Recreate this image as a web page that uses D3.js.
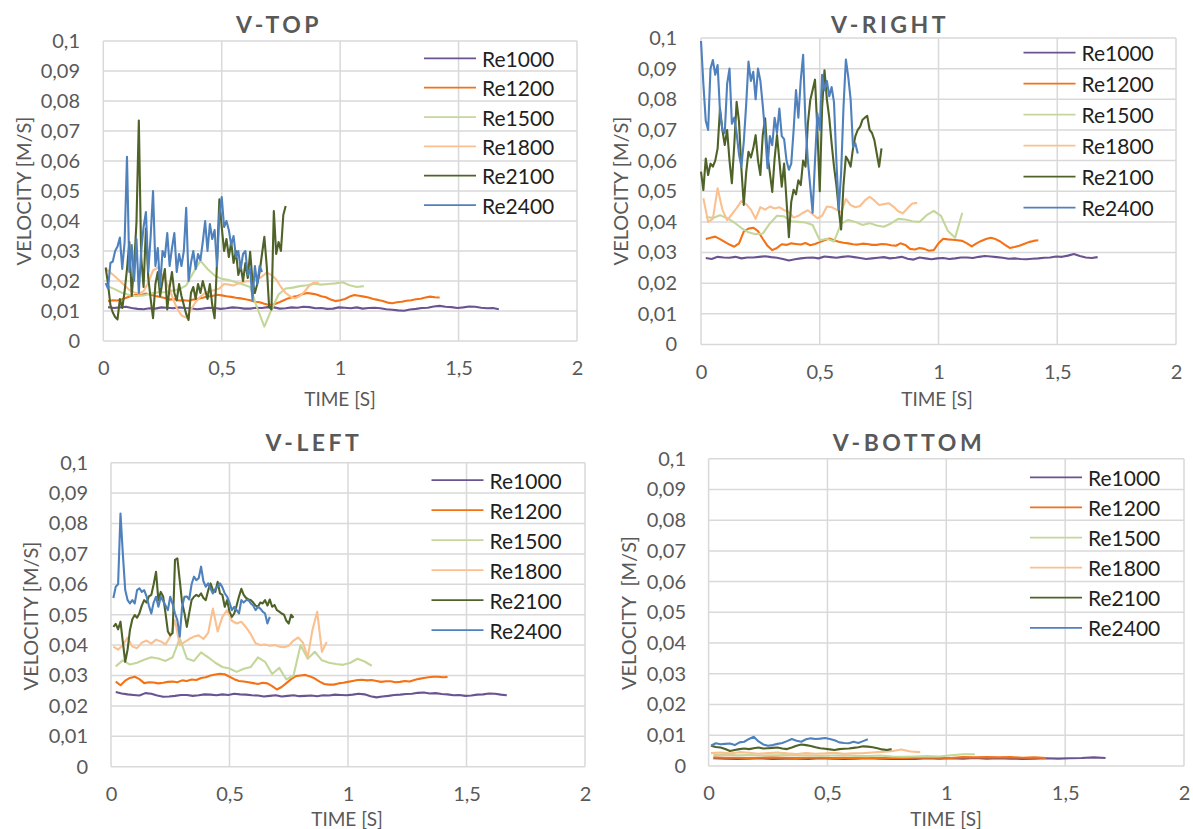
<!DOCTYPE html>
<html>
<head>
<meta charset="utf-8">
<script src="https://cdn.jsdelivr.net/npm/d3@7"></script>
<style>
  body { margin: 0; background: #fff; }
  svg { display: block; font-family: Lato, "Open Sans", sans-serif; }
</style>
</head>
<body>
<div id="app"></div>
<script>
// series names and colours
const seriesNames = ['Re1000', 'Re1200', 'Re1500', 'Re1800', 'Re2100', 'Re2400']
const seriesColors = ['#6b5391', '#f47216', '#c4d79b', '#fac090', '#4f6228', '#4f81bd']

// axis ticks
const xTicks = [0, 0.5, 1, 1.5, 2]
const yTicks = [0, 0.01, 0.02, 0.03, 0.04, 0.05, 0.06, 0.07, 0.08, 0.09, 0.1]

// sampling of each series (start time, time step), same order as seriesNames
const seriesStart = [0.02, 0.02, 0.02, 0.01, 0.01, 0.01]
const rightStart = [0.02, 0.02, 0.02, 0.01, 0.0, 0.0]
const seriesStep = [0.025, 0.02, 0.03, 0.02, 0.01, 0.01]
const bottomStep = [0.05, 0.05, 0.05, 0.04, 0.02, 0.02]

// ---------- V-TOP ----------
const topRe1000 = [0.0113,0.0110,0.0112,0.0114,0.0110,0.0107,0.0106,0.0109,0.0108,0.0112,0.0111,0.0109,0.0112,0.0110,0.0109,0.0106,0.0108,0.0111,0.0110,0.0107,0.0109,0.0112,0.0111,0.0108,0.0108,0.0111,0.0110,0.0113,0.0112,0.0108,0.0109,0.0112,0.0111,0.0114,0.0113,0.0109,0.0110,0.0107,0.0108,0.0112,0.0111,0.0109,0.0112,0.0108,0.0110,0.0111,0.0109,0.0106,0.0104,0.0102,0.0101,0.0105,0.0107,0.0110,0.0111,0.0115,0.0117,0.0114,0.0113,0.0110,0.0112,0.0115,0.0114,0.0111,0.0109,0.0110,0.0106]
const topRe1200 = [0.0133,0.0136,0.0135,0.0139,0.0145,0.0151,0.0155,0.0153,0.0158,0.0154,0.0150,0.0147,0.0143,0.0138,0.0140,0.0135,0.0136,0.0134,0.0138,0.0141,0.0144,0.0148,0.0150,0.0154,0.0152,0.0149,0.0147,0.0144,0.0142,0.0139,0.0136,0.0131,0.0129,0.0124,0.0120,0.0122,0.0128,0.0135,0.0142,0.0147,0.0150,0.0156,0.0160,0.0158,0.0155,0.0149,0.0146,0.0138,0.0133,0.0136,0.0140,0.0148,0.0153,0.0151,0.0148,0.0145,0.0140,0.0137,0.0133,0.0128,0.0126,0.0129,0.0131,0.0134,0.0136,0.0139,0.0141,0.0145,0.0148,0.0146,0.0145]
const topRe1500 = [0.0182,0.0172,0.0160,0.0153,0.0150,0.0152,0.0158,0.0162,0.0163,0.0168,0.0172,0.0185,0.0228,0.0268,0.0240,0.0218,0.0207,0.0203,0.0196,0.0188,0.0180,0.0110,0.0048,0.0105,0.0155,0.0175,0.0178,0.0183,0.0186,0.0191,0.0188,0.0190,0.0192,0.0196,0.0186,0.0180,0.0183]
const topRe1800 = [0.0242,0.0228,0.0215,0.0200,0.0185,0.0170,0.0162,0.0158,0.0166,0.0195,0.0235,0.0245,0.0218,0.0190,0.0150,0.0110,0.0085,0.0078,0.0105,0.0130,0.0148,0.0160,0.0166,0.0170,0.0175,0.0190,0.0188,0.0185,0.0192,0.0196,0.0200,0.0198,0.0205,0.0215,0.0228,0.0220,0.0205,0.0180,0.0160,0.0148,0.0142,0.0150,0.0165,0.0185,0.0195,0.0193]
const topRe2100 = [0.0245,0.0190,0.0120,0.0095,0.0080,0.0072,0.0140,0.0110,0.0165,0.0240,0.0330,0.0150,0.0250,0.0395,0.0735,0.0280,0.0180,0.0375,0.0210,0.0140,0.0076,0.0190,0.0230,0.0150,0.0200,0.0240,0.0105,0.0180,0.0230,0.0160,0.0135,0.0190,0.0150,0.0120,0.0090,0.0070,0.0160,0.0180,0.0140,0.0190,0.0160,0.0200,0.0170,0.0140,0.0190,0.0120,0.0076,0.0260,0.0472,0.0380,0.0300,0.0340,0.0280,0.0330,0.0260,0.0300,0.0220,0.0250,0.0200,0.0260,0.0210,0.0297,0.0200,0.0160,0.0190,0.0230,0.0290,0.0347,0.0250,0.0115,0.0105,0.0433,0.0290,0.0330,0.0300,0.0420,0.0450]
const topRe2400 = [0.0193,0.0175,0.0260,0.0265,0.0300,0.0315,0.0345,0.0240,0.0330,0.0614,0.0230,0.0320,0.0200,0.0340,0.0160,0.0300,0.0380,0.0430,0.0230,0.0350,0.0500,0.0250,0.0310,0.0180,0.0300,0.0280,0.0360,0.0250,0.0310,0.0360,0.0230,0.0290,0.0250,0.0300,0.0444,0.0200,0.0260,0.0300,0.0240,0.0290,0.0270,0.0330,0.0400,0.0300,0.0390,0.0340,0.0370,0.0250,0.0420,0.0480,0.0380,0.0400,0.0370,0.0320,0.0350,0.0280,0.0300,0.0240,0.0290,0.0300,0.0220,0.0240,0.0137,0.0250,0.0190,0.0250,0.0230]

// ---------- V-RIGHT ----------
const rightRe1000 = [0.0282,0.0279,0.0286,0.0284,0.0283,0.0286,0.0281,0.0284,0.0284,0.0286,0.0288,0.0285,0.0283,0.0279,0.0274,0.0278,0.0281,0.0283,0.0284,0.0281,0.0287,0.0285,0.0283,0.0286,0.0288,0.0285,0.0282,0.0279,0.0281,0.0283,0.0285,0.0281,0.0283,0.0286,0.0280,0.0277,0.0284,0.0281,0.0278,0.0281,0.0282,0.0279,0.0281,0.0284,0.0284,0.0282,0.0286,0.0289,0.0287,0.0285,0.0283,0.0280,0.0281,0.0279,0.0278,0.0280,0.0281,0.0283,0.0284,0.0287,0.0286,0.0290,0.0295,0.0289,0.0284,0.0282,0.0285]
const rightRe1200 = [0.0344,0.0348,0.0352,0.0344,0.0335,0.0326,0.0319,0.0330,0.0368,0.0378,0.0381,0.0370,0.0345,0.0322,0.0308,0.0315,0.0327,0.0325,0.0330,0.0328,0.0326,0.0331,0.0324,0.0328,0.0334,0.0340,0.0346,0.0340,0.0335,0.0332,0.0330,0.0327,0.0326,0.0329,0.0328,0.0325,0.0325,0.0328,0.0327,0.0324,0.0322,0.0330,0.0325,0.0312,0.0310,0.0315,0.0312,0.0306,0.0308,0.0330,0.0345,0.0343,0.0342,0.0340,0.0338,0.0330,0.0320,0.0330,0.0338,0.0344,0.0348,0.0344,0.0336,0.0325,0.0315,0.0318,0.0322,0.0328,0.0334,0.0338,0.0340]
const rightRe1500 = [0.0416,0.0413,0.0422,0.0412,0.0398,0.0380,0.0366,0.0360,0.0362,0.0395,0.0420,0.0418,0.0402,0.0400,0.0398,0.0390,0.0340,0.0345,0.0336,0.0395,0.0406,0.0400,0.0390,0.0396,0.0388,0.0384,0.0395,0.0410,0.0408,0.0402,0.0400,0.0422,0.0436,0.0420,0.0370,0.0348,0.0430]
const rightRe1800 = [0.0477,0.0400,0.0410,0.0510,0.0440,0.0406,0.0425,0.0445,0.0468,0.0458,0.0440,0.0410,0.0448,0.0440,0.0450,0.0444,0.0448,0.0438,0.0432,0.0414,0.0420,0.0430,0.0438,0.0425,0.0412,0.0420,0.0450,0.0448,0.0440,0.0432,0.0475,0.0455,0.0448,0.0452,0.0470,0.0482,0.0470,0.0455,0.0458,0.0461,0.0450,0.0435,0.0428,0.0445,0.0460,0.0462]
const rightRe2100 = [0.0564,0.0504,0.0607,0.0553,0.0590,0.0580,0.0600,0.0640,0.0770,0.0700,0.0651,0.0700,0.0600,0.0526,0.0650,0.0792,0.0727,0.0575,0.0455,0.0560,0.0629,0.0610,0.0640,0.0683,0.0600,0.0553,0.0683,0.0738,0.0618,0.0560,0.0498,0.0607,0.0683,0.0600,0.0515,0.0590,0.0470,0.0350,0.0466,0.0505,0.0490,0.0536,0.0520,0.0600,0.0580,0.0721,0.0797,0.0830,0.0864,0.0700,0.0500,0.0775,0.0895,0.0800,0.0740,0.0656,0.0580,0.0520,0.0440,0.0375,0.0520,0.0613,0.0600,0.0580,0.0640,0.0680,0.0700,0.0711,0.0733,0.0740,0.0746,0.0700,0.0690,0.0667,0.0623,0.0580,0.0640]
const rightRe2400 = [0.0990,0.0850,0.0730,0.0700,0.0900,0.0928,0.0880,0.0912,0.0760,0.0700,0.0690,0.0850,0.0900,0.0720,0.0740,0.0690,0.0620,0.0580,0.0660,0.0780,0.0923,0.0860,0.0890,0.0800,0.0900,0.0860,0.0780,0.0690,0.0575,0.0680,0.0650,0.0740,0.0690,0.0770,0.0680,0.0670,0.0600,0.0570,0.0590,0.0700,0.0830,0.0740,0.0863,0.0945,0.0720,0.0600,0.0515,0.0430,0.0600,0.0754,0.0700,0.0880,0.0830,0.0860,0.0810,0.0840,0.0790,0.0600,0.0440,0.0560,0.0775,0.0930,0.0873,0.0800,0.0645,0.0656,0.0623]

// ---------- V-LEFT ----------
const leftRe1000 = [0.0246,0.0241,0.0238,0.0236,0.0234,0.0242,0.0240,0.0234,0.0230,0.0231,0.0233,0.0236,0.0236,0.0233,0.0235,0.0238,0.0237,0.0235,0.0238,0.0236,0.0240,0.0238,0.0237,0.0235,0.0234,0.0231,0.0233,0.0235,0.0231,0.0233,0.0235,0.0232,0.0233,0.0234,0.0232,0.0235,0.0234,0.0237,0.0236,0.0235,0.0237,0.0240,0.0238,0.0232,0.0228,0.0231,0.0233,0.0236,0.0237,0.0239,0.0240,0.0243,0.0244,0.0241,0.0242,0.0239,0.0238,0.0235,0.0236,0.0233,0.0234,0.0237,0.0238,0.0241,0.0240,0.0237,0.0235]
const leftRe1200 = [0.0280,0.0268,0.0283,0.0292,0.0296,0.0288,0.0275,0.0278,0.0277,0.0274,0.0276,0.0279,0.0280,0.0278,0.0284,0.0282,0.0287,0.0285,0.0292,0.0294,0.0300,0.0303,0.0306,0.0304,0.0296,0.0288,0.0282,0.0280,0.0278,0.0275,0.0272,0.0276,0.0274,0.0265,0.0254,0.0262,0.0275,0.0288,0.0298,0.0300,0.0302,0.0297,0.0290,0.0280,0.0272,0.0270,0.0270,0.0274,0.0276,0.0279,0.0282,0.0285,0.0286,0.0284,0.0285,0.0282,0.0279,0.0281,0.0281,0.0278,0.0279,0.0282,0.0280,0.0285,0.0289,0.0292,0.0294,0.0296,0.0296,0.0294,0.0295]
const leftRe1500 = [0.0330,0.0350,0.0336,0.0342,0.0352,0.0360,0.0356,0.0348,0.0360,0.0422,0.0356,0.0348,0.0376,0.0360,0.0342,0.0328,0.0323,0.0312,0.0322,0.0328,0.0360,0.0345,0.0305,0.0325,0.0287,0.0300,0.0400,0.0355,0.0378,0.0350,0.0342,0.0338,0.0335,0.0342,0.0355,0.0346,0.0332]
const leftRe1800 = [0.0395,0.0385,0.0400,0.0425,0.0395,0.0390,0.0408,0.0415,0.0405,0.0418,0.0412,0.0402,0.0428,0.0482,0.0400,0.0410,0.0420,0.0428,0.0432,0.0420,0.0440,0.0520,0.0445,0.0493,0.0515,0.0480,0.0471,0.0477,0.0458,0.0436,0.0406,0.0400,0.0402,0.0398,0.0400,0.0395,0.0393,0.0398,0.0415,0.0425,0.0408,0.0360,0.0450,0.0510,0.0378,0.0410]
const leftRe2100 = [0.0460,0.0470,0.0452,0.0477,0.0410,0.0345,0.0385,0.0450,0.0485,0.0499,0.0490,0.0505,0.0530,0.0548,0.0540,0.0560,0.0565,0.0600,0.0641,0.0548,0.0575,0.0560,0.0505,0.0445,0.0432,0.0440,0.0680,0.0685,0.0614,0.0540,0.0505,0.0460,0.0505,0.0548,0.0559,0.0565,0.0560,0.0570,0.0555,0.0548,0.0580,0.0603,0.0581,0.0575,0.0608,0.0570,0.0565,0.0526,0.0548,0.0510,0.0493,0.0504,0.0530,0.0560,0.0585,0.0565,0.0555,0.0550,0.0548,0.0540,0.0530,0.0526,0.0540,0.0537,0.0548,0.0530,0.0550,0.0526,0.0532,0.0515,0.0510,0.0504,0.0500,0.0480,0.0471,0.0500,0.0490]
const leftRe2400 = [0.0555,0.0592,0.0600,0.0833,0.0700,0.0581,0.0548,0.0537,0.0548,0.0537,0.0581,0.0587,0.0575,0.0581,0.0560,0.0530,0.0504,0.0540,0.0559,0.0526,0.0559,0.0545,0.0530,0.0515,0.0559,0.0535,0.0504,0.0482,0.0428,0.0526,0.0559,0.0560,0.0550,0.0600,0.0625,0.0614,0.0620,0.0658,0.0610,0.0592,0.0603,0.0585,0.0570,0.0585,0.0592,0.0603,0.0590,0.0570,0.0559,0.0540,0.0515,0.0526,0.0515,0.0504,0.0548,0.0540,0.0548,0.0548,0.0537,0.0530,0.0515,0.0526,0.0520,0.0510,0.0504,0.0471,0.0493]

// ---------- V-BOTTOM ----------
const bottomRe1000 = [0.0025,0.0024,0.0023,0.0024,0.0025,0.0023,0.0024,0.0024,0.0023,0.0025,0.0024,0.0023,0.0024,0.0025,0.0024,0.0023,0.0024,0.0023,0.0025,0.0024,0.0025,0.0024,0.0026,0.0024,0.0025,0.0024,0.0023,0.0024,0.0025,0.0024,0.0025,0.0026,0.0028,0.0026]
const bottomRe1200 = [0.0028,0.0027,0.0027,0.0026,0.0027,0.0028,0.0027,0.0026,0.0027,0.0027,0.0026,0.0027,0.0026,0.0027,0.0026,0.0027,0.0026,0.0027,0.0028,0.0027,0.0026,0.0029,0.0028,0.0029,0.0028,0.0029,0.0027,0.0028,0.0026]
const bottomRe1500 = [0.0036,0.0037,0.0035,0.0036,0.0034,0.0035,0.0036,0.0034,0.0035,0.0033,0.0034,0.0035,0.0033,0.0032,0.0034,0.0031,0.0030,0.0031,0.0032,0.0031,0.0035,0.0038,0.0038]
const bottomRe1800 = [0.0042,0.0044,0.0041,0.0045,0.0043,0.0040,0.0042,0.0044,0.0041,0.0039,0.0042,0.0040,0.0041,0.0043,0.0040,0.0041,0.0042,0.0044,0.0046,0.0048,0.0054,0.0047,0.0045]
const bottomRe2100 = [0.0066,0.0062,0.0060,0.0055,0.0049,0.0052,0.0055,0.0057,0.0055,0.0058,0.0060,0.0057,0.0058,0.0059,0.0060,0.0057,0.0055,0.0060,0.0066,0.0070,0.0068,0.0065,0.0061,0.0058,0.0056,0.0054,0.0052,0.0055,0.0056,0.0057,0.0059,0.0061,0.0064,0.0063,0.0061,0.0058,0.0054,0.0052,0.0055]
const bottomRe2400 = [0.0066,0.0074,0.0071,0.0072,0.0073,0.0068,0.0077,0.0079,0.0088,0.0095,0.0080,0.0070,0.0066,0.0068,0.0072,0.0075,0.0081,0.0088,0.0082,0.0079,0.0087,0.0090,0.0088,0.0089,0.0091,0.0088,0.0084,0.0077,0.0075,0.0074,0.0079,0.0075,0.0081,0.0087]

// panel layout (pixel positions in the 1193x829 picture)
const panels = [
  { title: 'V-TOP', yTitle: 'VELOCITY [M/S]', values: [topRe1000, topRe1200, topRe1500, topRe1800, topRe2100, topRe2400],
    start: seriesStart, step: seriesStep,
    x0: 103.3, x1: 577, y0: 341, y1: 41, titleX: 279, titleY: 24, yLabelX: 80, yTitleX: 23, yTitleY: 191,
    xTitleX: 340, xTitleY: 398, legX: 424, legY: 58.3, legStep: 29.35 },
  { title: 'V-RIGHT', yTitle: 'VELOCITY [M/S]', values: [rightRe1000, rightRe1200, rightRe1500, rightRe1800, rightRe2100, rightRe2400],
    start: rightStart, step: seriesStep,
    x0: 701, x1: 1176, y0: 344.5, y1: 38, titleX: 890, titleY: 24, yLabelX: 677, yTitleX: 620, yTitleY: 191,
    xTitleX: 937, xTitleY: 398, legX: 1023.5, legY: 52.7, legStep: 31 },
  { title: 'V-LEFT', yTitle: 'VELOCITY [M/S]', values: [leftRe1000, leftRe1200, leftRe1500, leftRe1800, leftRe2100, leftRe2400],
    start: seriesStart, step: seriesStep,
    x0: 111, x1: 585, y0: 766.7, y1: 462.7, titleX: 314, titleY: 442, yLabelX: 88, yTitleX: 30, yTitleY: 616,
    xTitleX: 347, xTitleY: 818, legX: 431.5, legY: 480, legStep: 30 },
  { title: 'V-BOTTOM', yTitle: 'VELOCITY  [M/S]', values: [bottomRe1000, bottomRe1200, bottomRe1500, bottomRe1800, bottomRe2100, bottomRe2400],
    start: seriesStart, step: bottomStep,
    x0: 708.6, x1: 1184, y0: 766, y1: 458.7, titleX: 909, titleY: 442, yLabelX: 686, yTitleX: 627.5, yTitleY: 613,
    xTitleX: 946, xTitleY: 818, legX: 1030, legY: 477.3, legStep: 30.1 }
]

const fmt = d => String(+d.toFixed(2)).replace('.', ',')

const svg = d3.select('#app')
  .append('svg')
    .attr('width', 1193)
    .attr('height', 829)

svg.append('rect').attr('width', 1193).attr('height', 829).attr('fill', '#fff')

panels.forEach(p => {
  const xScale = d3.scaleLinear().domain([0, 2]).range([p.x0, p.x1])
  const yScale = d3.scaleLinear().domain([0, 0.1]).range([p.y0, p.y1])
  const g = svg.append('g')

  // grid
  g.append('g').selectAll('line')
    .data(yTicks)
    .join('line')
      .attr('x1', p.x0).attr('x2', p.x1)
      .attr('y1', d => yScale(d)).attr('y2', d => yScale(d))
      .attr('stroke', '#d9d9d9').attr('stroke-width', 1.5)
  g.append('g').selectAll('line')
    .data(xTicks)
    .join('line')
      .attr('x1', d => xScale(d)).attr('x2', d => xScale(d))
      .attr('y1', p.y0).attr('y2', p.y1)
      .attr('stroke', '#d9d9d9').attr('stroke-width', 1.5)

  // axes (labels only, the grid is drawn above)
  const yAxis = g.append('g')
    .attr('transform', `translate(${p.x0}, 0)`)
    .call(d3.axisLeft(yScale).tickValues(yTicks).tickFormat(fmt).tickSize(0).tickPadding(p.x0 - p.yLabelX))
  const xAxis = g.append('g')
    .attr('transform', `translate(0, ${p.y0})`)
    .call(d3.axisBottom(xScale).tickValues(xTicks).tickFormat(fmt).tickSize(0).tickPadding(20))
  ;[yAxis, xAxis].forEach(a => {
    a.select('.domain').remove()
    a.selectAll('text').attr('font-size', 20).attr('fill', '#595959').attr('font-family', 'Lato, sans-serif')
  })

  // series
  const line = d3.line()
    .x(d => xScale(d.t))
    .y(d => yScale(d.v))
  p.values.forEach((vals, i) => {
    const pts = vals.map((v, k) => ({ t: p.start[i] + k * p.step[i], v }))
    g.append('path')
      .datum(pts)
      .attr('d', line)
      .attr('fill', 'none')
      .attr('stroke', seriesColors[i])
      .attr('stroke-width', 2.1)
      .attr('stroke-linejoin', 'round')
  })

  // titles
  g.append('text')
    .attr('x', p.titleX).attr('y', p.titleY)
    .attr('text-anchor', 'middle').attr('dominant-baseline', 'central')
    .attr('font-size', 23).attr('font-weight', 'bold').attr('letter-spacing', 3.5)
    .attr('fill', '#595959')
    .text(p.title)
  g.append('text')
    .attr('x', p.xTitleX).attr('y', p.xTitleY)
    .attr('text-anchor', 'middle').attr('dominant-baseline', 'central')
    .attr('font-size', 19).attr('fill', '#595959')
    .text('TIME [S]')
  g.append('text')
    .attr('transform', `translate(${p.yTitleX}, ${p.yTitleY}) rotate(-90)`)
    .attr('text-anchor', 'middle').attr('dominant-baseline', 'central')
    .attr('font-size', 20).attr('fill', '#595959')
    .attr('xml:space', 'preserve')
    .text(p.yTitle)

  // legend
  const leg = g.append('g').selectAll('g')
    .data(seriesNames)
    .join('g')
      .attr('transform', (d, i) => `translate(${p.legX}, ${p.legY + i * p.legStep})`)
  leg.append('line')
    .attr('x1', 0).attr('x2', 52)
    .attr('stroke', (d, i) => seriesColors[i])
    .attr('stroke-width', 1.75)
  leg.append('text')
    .attr('x', 58)
    .attr('dominant-baseline', 'central')
    .attr('font-size', 21).attr('fill', '#1f1f1f')
    .text(d => d)
})
</script>
</body>
</html>
